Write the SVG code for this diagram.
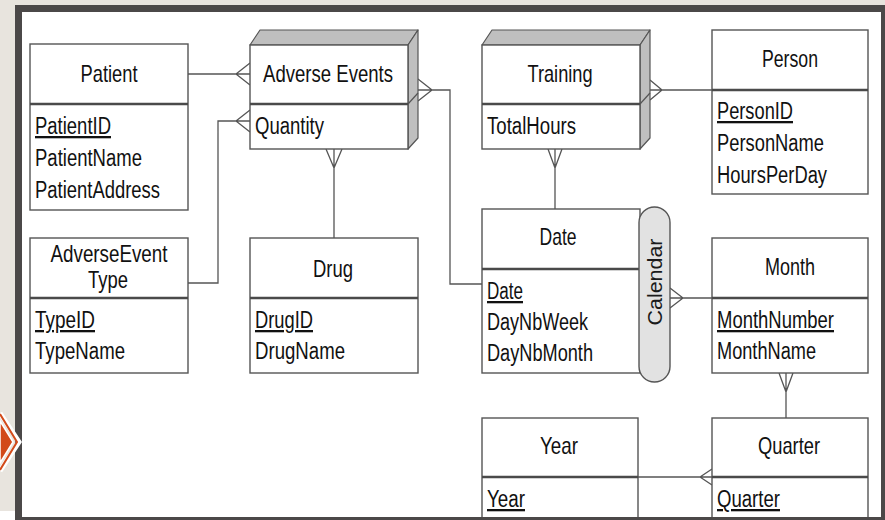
<svg xmlns="http://www.w3.org/2000/svg" width="885" height="520" viewBox="0 0 885 520">
  <style>
    .box { fill: #ffffff; stroke: #555555; stroke-width: 1.4; }
    .face { fill: #bfbfbf; stroke: #555555; stroke-width: 1.2; stroke-linejoin: round; }
    .div { stroke: #4a4a4a; stroke-width: 2.6; }
    .thin { stroke: #555555; stroke-width: 1.2; fill: none; }
    .hd { font-family: "Liberation Sans", Arial, sans-serif; font-size: 24px; fill: #111111; text-anchor: middle; }
    .at { font-family: "Liberation Sans", Arial, sans-serif; font-size: 23px; fill: #111111; }
    .key { text-decoration: underline; }
    .conn { stroke: #555555; stroke-width: 1.3; fill: none; stroke-linejoin: miter; }
  </style>

  <!-- slide background and frame -->
  <rect x="0" y="0" width="885" height="520" fill="#e8e4de"/>
  <rect x="0" y="511" width="15" height="9" fill="#ffffff"/>
  <rect x="15" y="5" width="870" height="515" fill="#4b4848"/>
  <rect x="22" y="12" width="859" height="505" fill="#ffffff"/>

  <!-- orange chevron marker -->
  <g id="chevron">
    <polyline points="0,413 19,442 0,471" fill="none" stroke="#ffffff" stroke-width="5"/>
    <polyline points="0,414 17,442 0,470" fill="none" stroke="#d24a1a" stroke-width="2"/>
    <polygon points="0,421 13,442 0,463" fill="#d24a1a" stroke="#ffffff" stroke-width="1.5"/>
  </g>

  <!-- connectors -->
  <g id="connectors">
    <!-- Patient - Adverse Events -->
    <path class="conn" d="M188,74 H250 M236,74 L250,63 M236,74 L250,85"/>
    <!-- AdverseEvent Type - Adverse Events (Quantity row) -->
    <path class="conn" d="M188,283 H218 V121 H250 M236,121 L250,110 M236,121 L250,132"/>
    <!-- Adverse Events - Date -->
    <path class="conn" d="M418,90 H450 V284 H482 M432,90 L418,79 M432,90 L418,101"/>
    <!-- Adverse Events - Drug -->
    <path class="conn" d="M334,149 V238 M334,168 L326,149 M334,168 L342,149"/>
    <!-- Training - Date -->
    <path class="conn" d="M555,149 V209 M555,168 L548,149 M555,168 L562,149"/>
    <!-- Training - Person -->
    <path class="conn" d="M650,90 H712 M662,90 L650,80 M662,90 L650,100"/>
    <!-- Calendar - Month -->
    <path class="conn" d="M670,298 H712 M683,298 L670,288 M683,298 L670,308"/>
    <!-- Month - Quarter -->
    <path class="conn" d="M786,373 V418 M786,392 L779,373 M786,392 L793,373"/>
    <!-- Year - Quarter -->
    <path class="conn" d="M638,477 H712 M700,477 L712,469 M700,477 L712,485"/>
  </g>

  <!-- Patient -->
  <g id="patient">
    <rect class="box" x="30" y="44" width="158" height="166"/>
    <line class="div" x1="30" y1="104" x2="188" y2="104"/>
    <text class="hd" x="109" y="82" textLength="57" lengthAdjust="spacingAndGlyphs">Patient</text>
    <text class="at key" x="35" y="134" textLength="76" lengthAdjust="spacingAndGlyphs">PatientID</text>
    <text class="at" x="35" y="166" textLength="107" lengthAdjust="spacingAndGlyphs">PatientName</text>
    <text class="at" x="35" y="198" textLength="125" lengthAdjust="spacingAndGlyphs">PatientAddress</text>
  </g>

  <!-- Adverse Events (fact) -->
  <g id="adverse-events">
    <polygon class="face" points="250,45 260,30 418,30 408,45"/>
    <polygon class="face" points="408,45 418,30 418,138 408,149"/>
    <line class="thin" x1="408" y1="104" x2="418" y2="93"/>
    <rect class="box" x="250" y="45" width="158" height="104"/>
    <line class="div" x1="250" y1="104" x2="408" y2="104"/>
    <text class="hd" x="328" y="82" textLength="130" lengthAdjust="spacingAndGlyphs">Adverse Events</text>
    <text class="at" x="255" y="134" textLength="69" lengthAdjust="spacingAndGlyphs">Quantity</text>
  </g>

  <!-- Training (fact) -->
  <g id="training">
    <polygon class="face" points="482,45 492,30 650,30 640,45"/>
    <polygon class="face" points="640,45 650,30 650,138 640,149"/>
    <line class="thin" x1="640" y1="104" x2="650" y2="93"/>
    <rect class="box" x="482" y="45" width="158" height="104"/>
    <line class="div" x1="482" y1="104" x2="640" y2="104"/>
    <text class="hd" x="560" y="82" textLength="65" lengthAdjust="spacingAndGlyphs">Training</text>
    <text class="at" x="487" y="134" textLength="89" lengthAdjust="spacingAndGlyphs">TotalHours</text>
  </g>

  <!-- Person -->
  <g id="person">
    <rect class="box" x="712" y="30" width="156" height="164"/>
    <line class="div" x1="712" y1="90" x2="868" y2="90"/>
    <text class="hd" x="790" y="67" textLength="56" lengthAdjust="spacingAndGlyphs">Person</text>
    <text class="at key" x="717" y="119" textLength="76" lengthAdjust="spacingAndGlyphs">PersonID</text>
    <text class="at" x="717" y="151" textLength="107" lengthAdjust="spacingAndGlyphs">PersonName</text>
    <text class="at" x="717" y="183" textLength="110" lengthAdjust="spacingAndGlyphs">HoursPerDay</text>
  </g>

  <!-- AdverseEvent Type -->
  <g id="adverse-event-type">
    <rect class="box" x="30" y="238" width="158" height="135"/>
    <line class="div" x1="30" y1="298" x2="188" y2="298"/>
    <text class="hd" x="109" y="262" textLength="117" lengthAdjust="spacingAndGlyphs">AdverseEvent</text>
    <text class="hd" x="108" y="288" textLength="40" lengthAdjust="spacingAndGlyphs">Type</text>
    <text class="at key" x="35" y="328" textLength="60" lengthAdjust="spacingAndGlyphs">TypeID</text>
    <text class="at" x="35" y="359" textLength="90" lengthAdjust="spacingAndGlyphs">TypeName</text>
  </g>

  <!-- Drug -->
  <g id="drug">
    <rect class="box" x="250" y="238" width="168" height="135"/>
    <line class="div" x1="250" y1="298" x2="418" y2="298"/>
    <text class="hd" x="333" y="277" textLength="40" lengthAdjust="spacingAndGlyphs">Drug</text>
    <text class="at key" x="255" y="328" textLength="58" lengthAdjust="spacingAndGlyphs">DrugID</text>
    <text class="at" x="255" y="359" textLength="90" lengthAdjust="spacingAndGlyphs">DrugName</text>
  </g>

  <!-- Date -->
  <g id="date">
    <rect class="box" x="482" y="209" width="158" height="164"/>
    <line class="div" x1="482" y1="269" x2="640" y2="269"/>
    <text class="hd" x="558" y="245" textLength="37" lengthAdjust="spacingAndGlyphs">Date</text>
    <text class="at key" x="487" y="299" textLength="36" lengthAdjust="spacingAndGlyphs">Date</text>
    <text class="at" x="487" y="330" textLength="101" lengthAdjust="spacingAndGlyphs">DayNbWeek</text>
    <text class="at" x="487" y="361" textLength="106" lengthAdjust="spacingAndGlyphs">DayNbMonth</text>
  </g>

  <!-- Calendar hierarchy -->
  <g id="calendar">
    <rect x="639" y="207" width="31" height="175" rx="15.5" ry="15.5" fill="#e2e2e2" stroke="#555555" stroke-width="1.4"/>
    <text x="0" y="0" transform="translate(662,282) rotate(-90)" font-family="&quot;Liberation Sans&quot;, Arial, sans-serif" font-size="21" fill="#1a1a1a" text-anchor="middle" textLength="87" lengthAdjust="spacingAndGlyphs">Calendar</text>
  </g>

  <!-- Month -->
  <g id="month">
    <rect class="box" x="712" y="238" width="156" height="135"/>
    <line class="div" x1="712" y1="298" x2="868" y2="298"/>
    <text class="hd" x="790" y="275" textLength="50" lengthAdjust="spacingAndGlyphs">Month</text>
    <text class="at key" x="717" y="328" textLength="117" lengthAdjust="spacingAndGlyphs">MonthNumber</text>
    <text class="at" x="717" y="359" textLength="99" lengthAdjust="spacingAndGlyphs">MonthName</text>
  </g>

  <!-- Year -->
  <g id="year">
    <rect class="box" x="482" y="418" width="156" height="110"/>
    <line class="div" x1="482" y1="477" x2="638" y2="477"/>
    <text class="hd" x="559" y="454" textLength="38" lengthAdjust="spacingAndGlyphs">Year</text>
    <text class="at key" x="487" y="507" textLength="38" lengthAdjust="spacingAndGlyphs">Year</text>
  </g>

  <!-- Quarter -->
  <g id="quarter">
    <rect class="box" x="712" y="418" width="156" height="110"/>
    <line class="div" x1="712" y1="477" x2="868" y2="477"/>
    <text class="hd" x="789" y="454" textLength="62" lengthAdjust="spacingAndGlyphs">Quarter</text>
    <text class="at key" x="717" y="507" textLength="63" lengthAdjust="spacingAndGlyphs">Quarter</text>
  </g>

  <!-- frame bottom edge drawn over the cropped boxes -->
  <rect x="15" y="517" width="870" height="3" fill="#4b4848"/>
</svg>
